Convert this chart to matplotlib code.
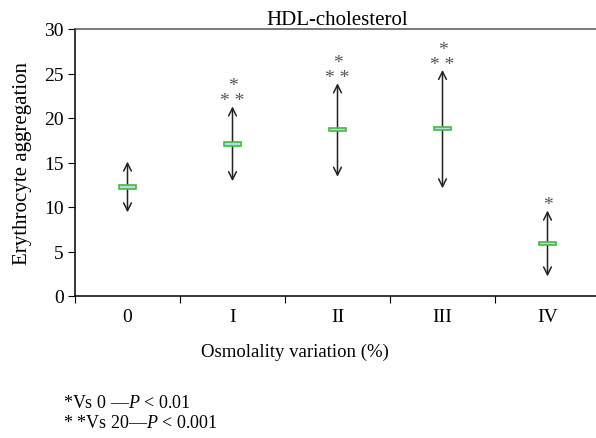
import matplotlib.pyplot as plt

# data
groups = ['0', 'I', 'II', 'III', 'IV']
means = [12.25, 17.1, 18.7, 18.8, 5.9]
upper = [15.1, 21.3, 23.9, 25.4, 9.6]
lower = [9.4, 12.9, 13.4, 12.1, 2.2]
stars = ['', '*\n* *', '*\n* *', '*\n* *', '*']

plt.rcParams['font.family'] = ['Liberation Serif', 'DejaVu Serif']
plt.rcParams['mathtext.fontset'] = 'custom'
plt.rcParams['mathtext.rm'] = 'Liberation Serif'
plt.rcParams['mathtext.it'] = 'Liberation Serif:italic'

fig = plt.figure(figsize=(5.96, 4.39), dpi=100)
ax = fig.add_axes([75/596, 1 - 297/439, 525/596, 267/439])

xs = [i + 0.5 for i in range(len(groups))]

for x, m, hi, lo, s in zip(xs, means, upper, lower, stars):
    ax.annotate('', xy=(x, hi), xytext=(x, lo),
                arrowprops=dict(arrowstyle='<->', lw=1.1, color='#222222',
                                mutation_scale=14, shrinkA=0, shrinkB=0))
    ax.bar(x, 0.4, bottom=m - 0.2, width=0.17, color='#b5dde6',
           edgecolor='#45b845', linewidth=1.2, zorder=3)
    if s:
        ax.text(x, hi - 0.3, s, ha='center', va='bottom', fontsize=14,
                color='#555555', linespacing=0.85)

ax.set_xlim(0, 5)
ax.set_ylim(0, 30)
ax.set_yticks([0, 5, 10, 15, 20, 25, 30])
ax.set_xticks([0, 1, 2, 3, 4])
ax.set_xticklabels([])
ax.set_xticks(xs, minor=True)
ax.set_xticklabels(groups, minor=True)
ax.tick_params(axis='x', which='minor', length=0, pad=9, labelsize=14)
ax.tick_params(axis='x', which='major', direction='out', length=5)
ax.tick_params(axis='y', direction='out', length=5, labelsize=14, pad=3)
ax.spines['right'].set_visible(False)
for sp in ['left', 'bottom', 'top']:
    ax.spines[sp].set_linewidth(1.1)
ax.spines['top'].set_color('#555555')

ax.set_title('HDL-cholesterol', fontsize=15, pad=3)
ax.set_ylabel('Erythrocyte aggregation', fontsize=15, labelpad=9)
fig.text(295/596, 1 - 352/439, 'Osmolality variation (%)', ha='center',
         va='center', fontsize=13.5)

fig.text(63/596, 1 - 404/439, r'*Vs 0 —$\it{P}$ < 0.01', ha='left',
         va='center', fontsize=13)
fig.text(63/596, 1 - 424/439, r'* *Vs 20—$\it{P}$ < 0.001', ha='left',
         va='center', fontsize=13)

plt.savefig('out.png', dpi=100)
